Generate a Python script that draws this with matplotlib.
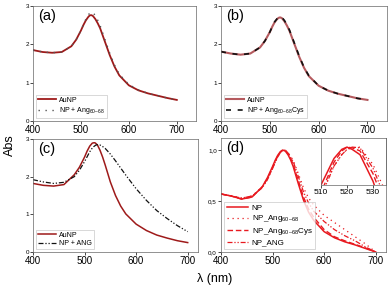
import numpy as np
import matplotlib
matplotlib.use("Agg")
import matplotlib.pyplot as plt

plt.rcParams["font.family"] = ["Liberation Sans", "DejaVu Sans"]
plt.rcParams["mathtext.fontset"] = "custom"
plt.rcParams["mathtext.rm"] = "Liberation Sans"
plt.rcParams["mathtext.it"] = "Liberation Sans"

# wavelengths (nm)
wl = [400, 420, 440, 460, 480, 490, 500, 505, 510, 515, 518, 520, 522, 525, 530, 535,
      540, 550, 560, 570, 580, 600, 620, 640, 660, 680, 700]

# (a)
a_aunp = [1.85, 1.80, 1.78, 1.80, 1.95, 2.12, 2.36, 2.50, 2.62, 2.71, 2.75, 2.76, 2.76, 2.74, 2.66, 2.55,
          2.42, 2.07, 1.72, 1.42, 1.19, 0.93, 0.80, 0.72, 0.66, 0.60, 0.55]
a_ang = [1.85, 1.80, 1.78, 1.80, 1.95, 2.12, 2.36, 2.51, 2.65, 2.76, 2.81, 2.83, 2.84, 2.83, 2.75, 2.63,
         2.49, 2.13, 1.77, 1.46, 1.22, 0.95, 0.81, 0.72, 0.66, 0.60, 0.55]
# (b)
b_aunp = [1.81, 1.76, 1.73, 1.76, 1.92, 2.09, 2.32, 2.46, 2.58, 2.66, 2.69, 2.70, 2.70, 2.68, 2.60, 2.49,
          2.36, 2.02, 1.68, 1.39, 1.17, 0.92, 0.79, 0.71, 0.65, 0.59, 0.55]
b_cys = [1.81, 1.76, 1.73, 1.76, 1.92, 2.09, 2.32, 2.46, 2.59, 2.67, 2.71, 2.72, 2.72, 2.70, 2.62, 2.51,
         2.38, 2.04, 1.70, 1.40, 1.18, 0.92, 0.79, 0.71, 0.65, 0.59, 0.55]
# (c)
c_aunp = [1.82, 1.77, 1.75, 1.79, 2.05, 2.25, 2.52, 2.68, 2.81, 2.89, 2.90, 2.90, 2.88, 2.84, 2.70, 2.52,
          2.31, 1.86, 1.50, 1.22, 1.01, 0.74, 0.57, 0.45, 0.37, 0.30, 0.25]
c_ang = [1.92, 1.86, 1.82, 1.85, 2.00, 2.17, 2.40, 2.53, 2.66, 2.76, 2.80, 2.82, 2.84, 2.85, 2.84, 2.80,
         2.75, 2.60, 2.42, 2.23, 2.04, 1.68, 1.37, 1.10, 0.89, 0.70, 0.54]
# (d) normalised
d_np = [0.57, 0.55, 0.52, 0.54, 0.64, 0.73, 0.84, 0.90, 0.95, 0.985, 0.997, 1.0, 0.997, 0.99, 0.955, 0.905,
        0.84, 0.67, 0.51, 0.39, 0.31, 0.20, 0.14, 0.10, 0.07, 0.035, 0.0]
d_ang = [0.57, 0.55, 0.53, 0.55, 0.64, 0.72, 0.82, 0.88, 0.935, 0.975, 0.99, 0.997, 0.999, 1.0, 0.977, 0.94,
         0.90, 0.77, 0.63, 0.53, 0.46, 0.36, 0.29, 0.22, 0.15, 0.08, 0.0]
d_cys = [0.57, 0.55, 0.52, 0.54, 0.64, 0.72, 0.83, 0.89, 0.94, 0.98, 0.995, 1.0, 0.999, 0.995, 0.965, 0.92,
         0.86, 0.70, 0.54, 0.42, 0.34, 0.22, 0.15, 0.11, 0.075, 0.04, 0.0]
d_ANG = [0.57, 0.55, 0.53, 0.55, 0.63, 0.71, 0.82, 0.88, 0.935, 0.975, 0.99, 0.997, 1.0, 0.999, 0.972, 0.93,
         0.89, 0.74, 0.59, 0.48, 0.40, 0.30, 0.22, 0.16, 0.11, 0.05, 0.0]

xticks = [400, 500, 600, 700]

W, H = 390, 290
fig = plt.figure(figsize=(W / 100, H / 100), dpi=100)


def box(l, t, r, b):
    return [l / W, (H - b) / H, (r - l) / W, (b - t) / H]


def style(ax, xlim, ylim, yticks, ylabels, label):
    ax.set_xlim(*xlim)
    ax.set_ylim(*ylim)
    ax.set_xticks(xticks)
    ax.set_yticks(yticks)
    ax.set_yticklabels(ylabels)
    ax.tick_params(axis="x", labelsize=7, length=2, width=0.5, pad=1)
    ax.tick_params(axis="y", labelsize=4.5, length=2, width=0.5, pad=1)
    for s in ax.spines.values():
        s.set_linewidth(0.5)
        s.set_color("#666666")
    ax.text(0.03, 0.97, label, transform=ax.transAxes, fontsize=10.5,
            ha="left", va="top")


def legend(ax, size=5, **kw):
    lg = ax.legend(fontsize=size, frameon=True, fancybox=False, handlelength=2.6,
                   handletextpad=0.5, borderpad=0.3, labelspacing=0.2,
                   borderaxespad=0.4, **kw)
    lg.get_frame().set_linewidth(0.4)
    lg.get_frame().set_edgecolor("#aaaaaa")


dark_red = "#9e1a1a"
red = "#e8191f"

ax_a = fig.add_axes(box(33, 6, 196, 121))
ax_a.plot(wl, a_aunp, color=dark_red, lw=1.3, label="AuNP")
ax_a.plot(wl, a_ang, color="#555555", lw=1.0, ls=(0, (1, 4)), label="NP + Ang$_{60\u201368}$")
style(ax_a, (400, 740), (0, 3), [0, 1, 2, 3], ["0", "1", "2", "3"], "(a)")
legend(ax_a, loc="lower left")

ax_b = fig.add_axes(box(221, 6, 387, 121))
ax_b.plot(wl, b_aunp, color="#b55a5e", lw=1.5, label="AuNP")
ax_b.plot(wl, b_cys, color="#111111", lw=1.2, ls=(0, (3, 4)), label="NP + Ang$_{60\u201368}$Cys")
style(ax_b, (400, 740), (0, 3), [0, 1, 2, 3], ["0", "1", "2", "3"], "(b)")
legend(ax_b, loc="lower left")

ax_c = fig.add_axes(box(33, 139, 198, 252))
ax_c.plot(wl, c_aunp, color=dark_red, lw=1.1, label="AuNP")
ax_c.plot(wl, c_ang, color="#111111", lw=0.9, ls=(0, (4, 1.5, 1, 1.5, 1, 1.5)), label="NP + ANG")
style(ax_c, (400, 720), (0, 3), [0, 1, 2, 3], ["0", "1", "2", "3"], "(c)")
legend(ax_c, loc="lower left")

ax_d = fig.add_axes(box(221, 138, 386, 252))
ax_d.plot(wl, d_np, color=red, lw=1.1, label="NP")
ax_d.plot(wl, d_ang, color=red, lw=0.9, ls=(0, (1, 3)), label="NP_Ang$_{60\u201368}$")
ax_d.plot(wl, d_cys, color=red, lw=1.0, ls=(0, (4, 2)), label="NP_Ang$_{60\u201368}$Cys")
ax_d.plot(wl, d_ANG, color=red, lw=0.9, ls=(0, (4, 1.5, 1, 1.5, 1, 1.5)), label="NP_ANG")
style(ax_d, (400, 720), (0, 1.12), [0, 0.5, 1.0], ["0,0", "0,5", "1,0"], "(d)")
legend(ax_d, size=5.8, loc="lower left")

ax_in = fig.add_axes(box(321, 138, 386, 185))
ax_in.plot(wl, d_np, color=red, lw=1.1)
ax_in.plot(wl, d_ang, color=red, lw=0.9, ls=(0, (1, 3)))
ax_in.plot(wl, d_cys, color=red, lw=1.0, ls=(0, (4, 2)))
ax_in.plot(wl, d_ANG, color=red, lw=0.9, ls=(0, (4, 1.5, 1, 1.5, 1, 1.5)))
ax_in.set_xlim(510, 535)
ax_in.set_ylim(0.95, 1.012)
ax_in.set_xticks([510, 520, 530])
ax_in.set_yticks([])
ax_in.tick_params(axis="x", labelsize=6, length=2, width=0.5, pad=1)
for s in ax_in.spines.values():
    s.set_linewidth(0.5)
    s.set_color("#666666")

fig.text(10 / W, 1 - 145 / H, "Abs", rotation=90, fontsize=9, ha="center", va="center")
fig.text(215 / W, 1 - 279 / H, "\u03bb (nm)", fontsize=9, ha="center", va="center")

fig.savefig("out.png", dpi=100)
